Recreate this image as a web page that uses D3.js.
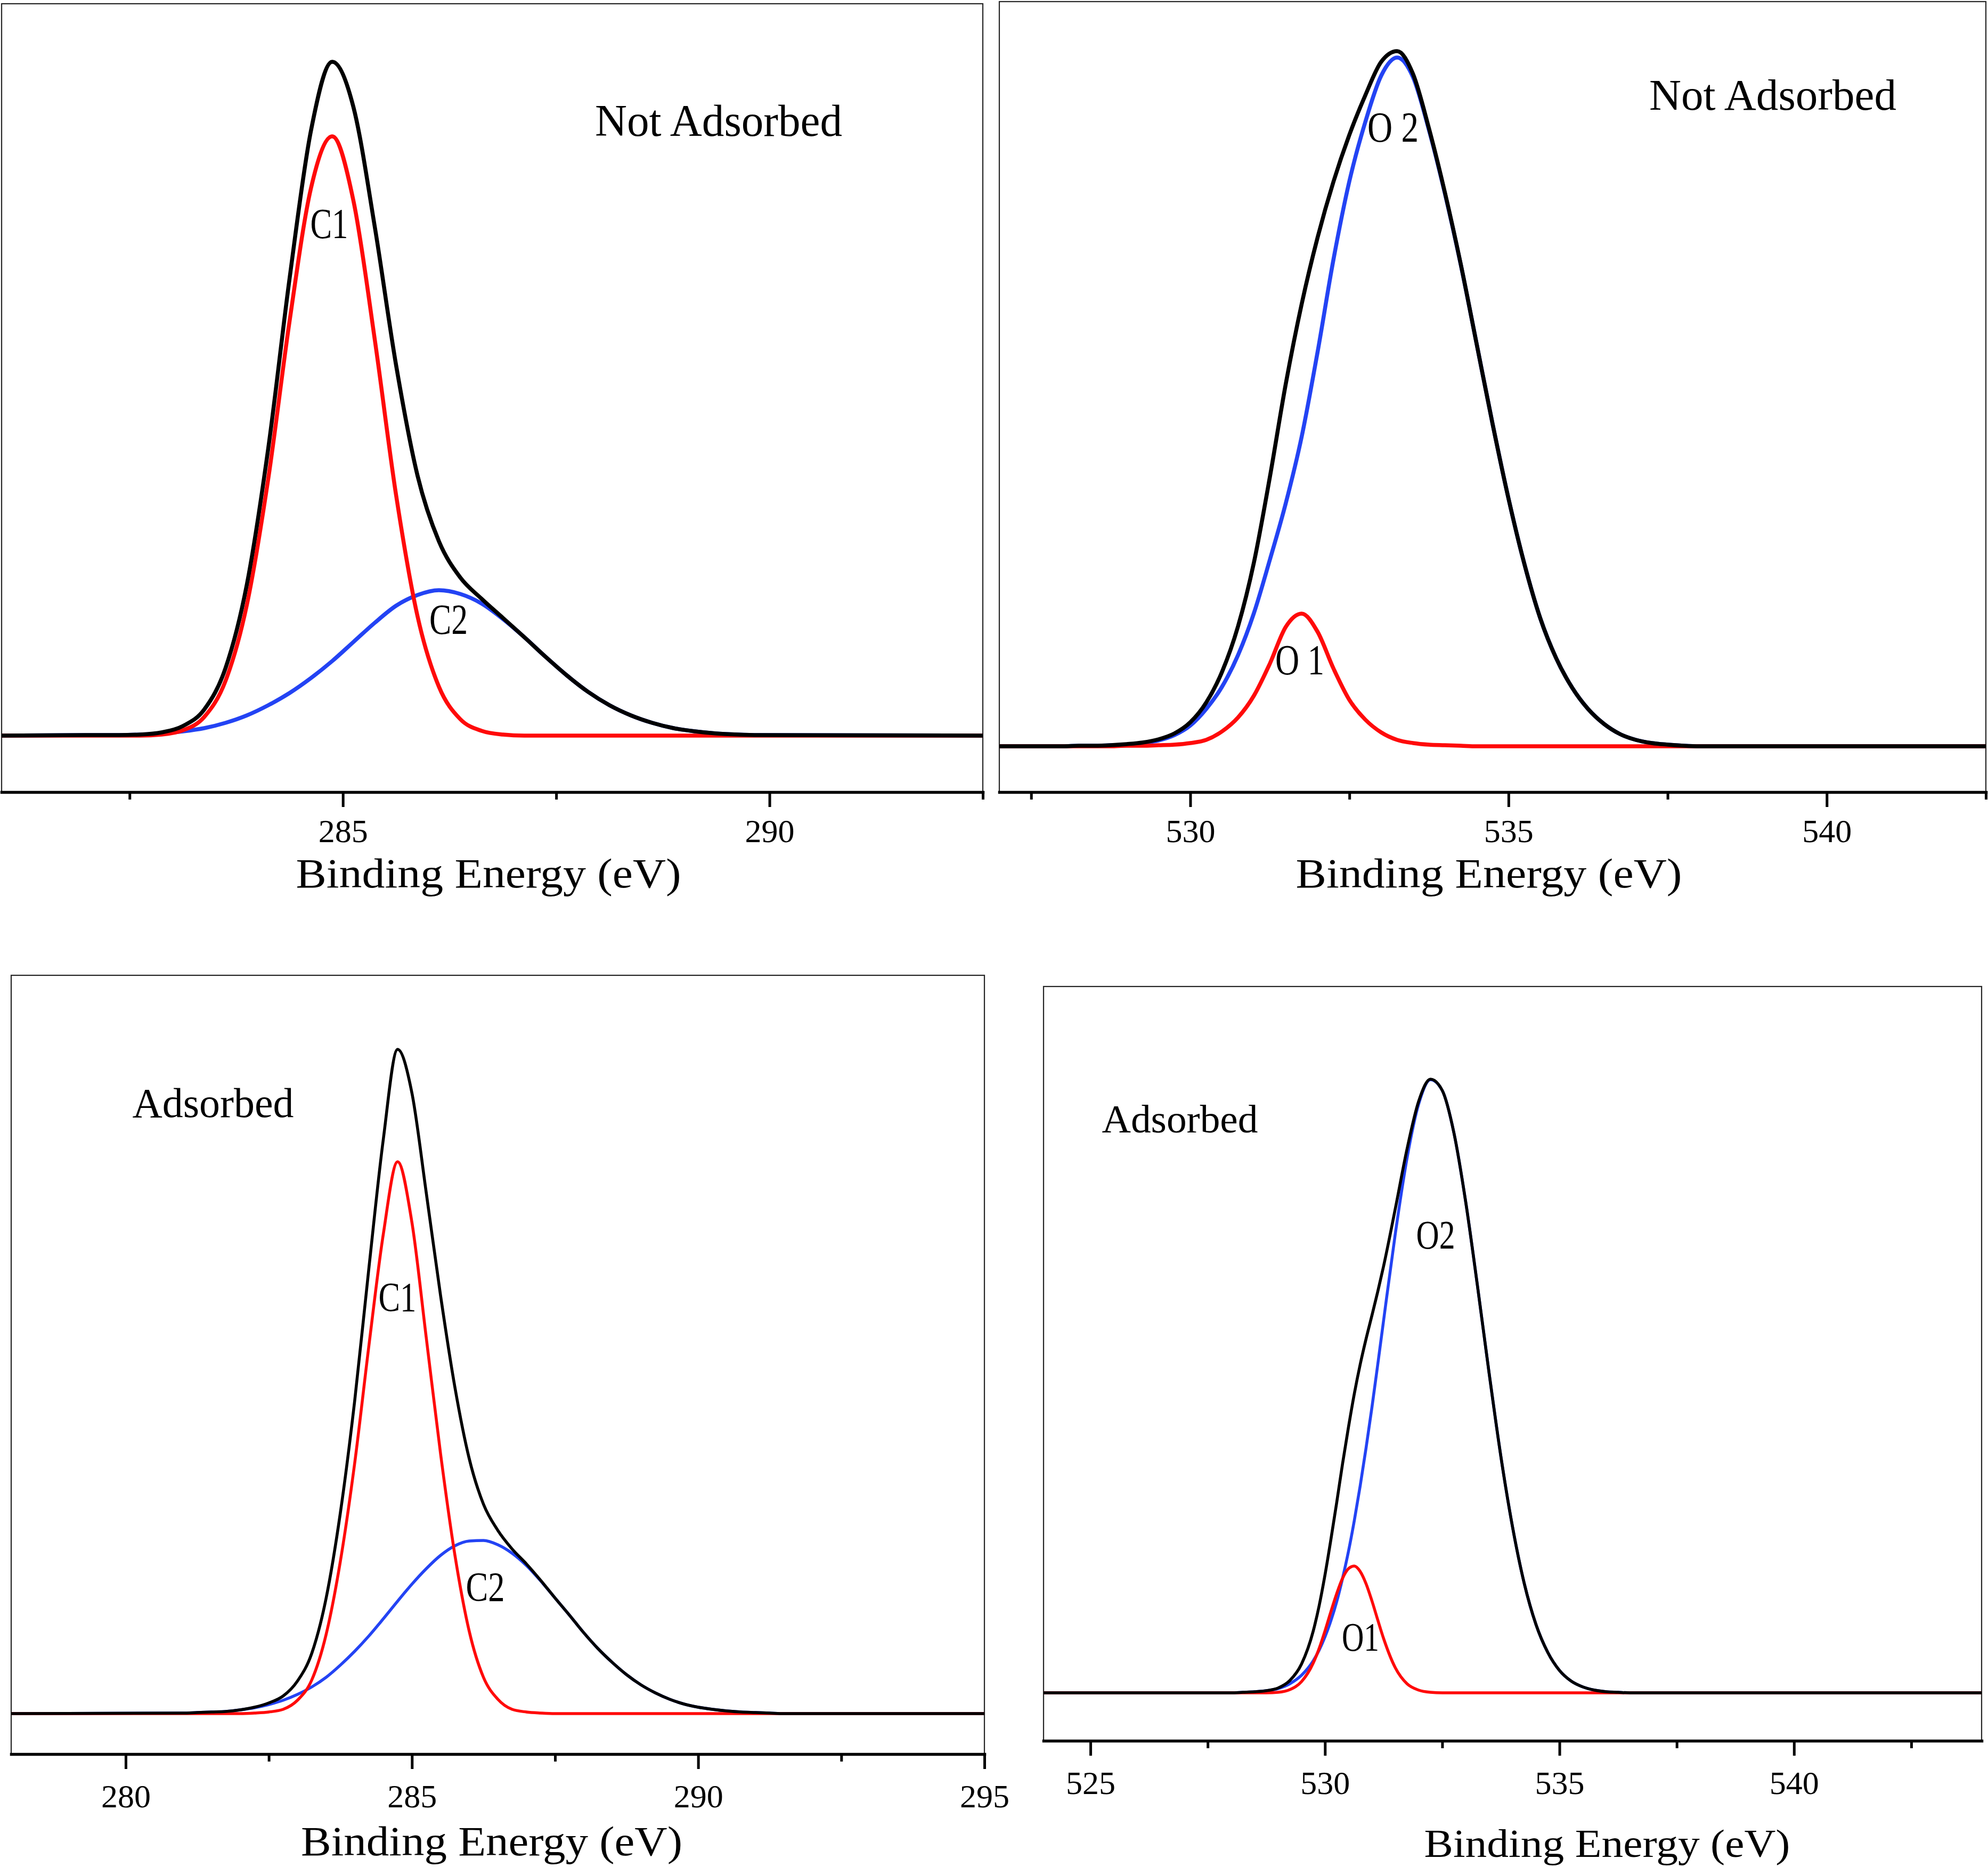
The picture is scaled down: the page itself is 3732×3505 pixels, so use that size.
<!DOCTYPE html>
<html>
<head>
<meta charset="utf-8">
<script src="https://cdn.jsdelivr.net/npm/d3@7"></script>
<style>
html,body{margin:0;padding:0;background:#fff;}
svg{display:block;}
</style>
</head>
<body>
<svg id="chart" width="3732" height="3505"></svg>
<script>
// ---------------- DATA (intensity in arbitrary units, baseline = 0) ----------------
// Panel 1: C 1s, not adsorbed
const c1NotEnergy = [281,
  282.125,282.375,282.625,282.875,283.125,283.375,283.625,283.875,284.125,284.375,
  284.625,284.875,285.125,285.375,285.625,285.875,286.125,286.375,286.625,286.875,
  287.125,287.375,287.625,287.875,288.125,288.375,288.625,288.875,289.125,289.375,
  289.625,289.875,
  292.5];
const c1NotC1 = [0,
  0,0,0,2,10,35,103,246,482,778,
  1027,1125,1003,742,450,224,92,31,9,2,
  0,0,0,0,0,0,0,0,0,0,
  0,0,
  0];
const c1NotC2 = [0,
  1,1,2,4,8,14,24,38,57,80,
  108,140,176,212,244,264,273,266,248,219,
  185,148,113,82,57,38,24,14,8,4,
  2,1,
  0];
const c1NotEnvelope = [0,
  1,1,2,6,18,49,127,284,539,858,
  1135,1265,1179,954,694,488,365,297,257,221,
  185,148,113,82,57,38,24,14,8,4,
  2,1,
  0];

// Panel 2: O 1s, not adsorbed
const o1NotEnergy = [527,
  528,528.25,528.5,528.75,529,529.25,529.5,529.75,530,530.25,
  530.5,530.75,531,531.25,531.5,531.75,532,532.25,532.5,532.75,
  533,533.25,533.5,533.75,534,534.25,534.5,534.75,535,535.25,
  535.5,535.75,536,536.25,536.5,536.75,537,537.25,537.5,537.75,
  538,
  542.5];
const o1NotO1 = [0,
  0,0,0,0,1,1,2,3,6,12,
  28,54,95,155,224,249,215,146,87,50,
  26,12,6,3,2,1,0,0,0,0,
  0,0,0,0,0,0,0,0,0,0,
  0,
  0];
const o1NotO2 = [0,
  0,1,1,2,3,6,11,21,39,70,
  112,171,250,350,456,581,740,914,1061,1172,
  1259,1293,1256,1157,1038,904,755,605,465,342,
  240,165,110,70,42,23,12,6,3,1,
  0,
  0];
const o1NotEnvelope = [0,
  0,1,1,2,4,7,13,24,45,82,
  140,225,345,505,680,830,955,1060,1148,1222,
  1285,1305,1262,1160,1040,905,755,605,465,342,
  240,165,110,70,42,23,12,6,3,1,
  0,
  0];

// Panel 3: C 1s, adsorbed
const c1AdsEnergy = [278,
  281,281.25,281.5,281.75,282,282.25,282.5,282.75,283,283.25,
  283.5,283.75,284,284.25,284.5,284.75,285,285.25,285.5,285.75,
  286,286.25,286.5,286.75,287,287.25,287.5,287.75,288,288.25,
  288.5,288.75,289,289.25,289.5,289.75,290,290.25,290.5,290.75,
  291,291.25,291.5,
  295];
const c1AdsC1 = [0,
  0,0,0,0,0,1,3,8,25,63,
  148,286,470,692,900,1036,922,706,488,298,
  155,68,27,8,3,1,0,0,0,0,
  0,0,0,0,0,0,0,0,0,0,
  0,0,0,
  0];
const c1AdsC2 = [0,
  1,2,3,4,7,11,17,25,36,50,
  68,91,117,146,178,211,243,272,297,315,
  324,325,317,301,278,249,217,185,152,122,
  96,73,54,39,27,18,12,8,5,3,
  2,1,0,
  0];
const c1AdsEnvelope = [0,
  1,2,3,4,7,12,20,33,61,113,
  216,377,587,838,1078,1247,1165,978,785,613,
  479,393,344,309,281,250,217,185,152,122,
  96,73,54,39,27,18,12,8,5,3,
  2,1,0,
  0];

// Panel 4: O 1s, adsorbed
const o1AdsEnergy = [524,
  528,528.25,528.5,528.75,529,529.25,529.5,529.75,529.875,530,
  530.125,530.25,530.375,530.5,530.625,530.75,530.875,531,531.125,531.25,
  531.5,531.75,532,532.25,532.5,532.75,533,533.25,533.5,533.75,
  534,534.25,534.5,534.75,535,535.25,535.5,535.75,536,536.25,
  536.5,
  544];
const o1AdsO1 = [0,
  0,0,0,0,1,6,21,56,83,116,
  152,186,215,233,238,228,205,173,137,102,
  47,17,5,1,0,0,0,0,0,0,
  0,0,0,0,0,0,0,0,0,0,
  0,
  0];
const o1AdsO2 = [0,
  0,1,2,4,8,17,33,60,80,105,
  135,171,215,265,323,388,459,535,616,699,
  862,1004,1106,1151,1131,1051,922,765,600,444,
  311,205,128,76,42,22,11,5,2,1,
  0,
  0];
const o1AdsEnvelope = [0,
  0,1,2,4,9,23,54,116,163,221,
  287,357,430,498,561,616,664,708,753,801,
  909,1021,1111,1152,1131,1051,922,765,600,444,
  311,205,128,76,42,22,11,5,2,1,
  0,
  0];

// Axis ticks
const c1NotMajor = [285, 290];
const c1NotMinor = [282.5, 287.5, 292.5];
const o1NotMajor = [530, 535, 540];
const o1NotMinor = [527.5, 532.5, 537.5, 542.5];
const c1AdsMajor = [280, 285, 290, 295];
const c1AdsMinor = [282.5, 287.5, 292.5];
const o1AdsMajor = [525, 530, 535, 540];
const o1AdsMinor = [527.5, 532.5, 537.5, 542.5];

// Texts
const axisTitle = "Binding Energy (eV)";
const stateLabels = ["Not Adsorbed", "Not Adsorbed", "Adsorbed", "Adsorbed"];
const peakLabels = [["C1", "C2"], ["O 1", "O 2"], ["C1", "C2"], ["O1", "O2"]];

// ---------------- LAYOUT / STYLE ----------------
const FONT = '"Liberation Serif","DejaVu Serif","Times New Roman",serif';
const RED = "#ff0a0a";
const BLUE = "#2343f4";
const BLACK = "#000000";

const panels = [
  { energy: c1NotEnergy, comp1: c1NotC1, comp2: c1NotC2, env: c1NotEnvelope,
    xDomain: [281, 292.5], yDomain: [-106, 1374],
    left: 3, right: 1845, top: 7, axisY: 1487, lw: 7.5, pad: 22,
    major: c1NotMajor, minor: c1NotMinor,
    state: { i: 0, cx: 1349, y: 255, size: 84, len: 464 },
    p1: { cx: 618, y: 447, size: 80, len: 71 },
    p2: { cx: 842, y: 1190, size: 80, len: 72 },
    title: { cx: 917, y: 1666, size: 78, len: 723 } },
  { energy: o1NotEnergy, comp1: o1NotO1, comp2: o1NotO2, env: o1NotEnvelope,
    xDomain: [527, 542.5], yDomain: [-86, 1398],
    left: 1876, right: 3728, top: 3, axisY: 1487, lw: 7.5, pad: 22,
    major: o1NotMajor, minor: o1NotMinor,
    state: { i: 1, cx: 3328, y: 206, size: 82, len: 464 },
    p1: { cx: 2440, y: 1266, size: 80, len: 92 },
    p2: { cx: 2615, y: 266, size: 80, len: 96 },
    title: { cx: 2795, y: 1666, size: 78, len: 725 } },
  { energy: c1AdsEnergy, comp1: c1AdsC1, comp2: c1AdsC2, env: c1AdsEnvelope,
    xDomain: [278, 295], yDomain: [-76, 1386],
    left: 21, right: 1848, top: 1831, axisY: 3293, lw: 5.5, pad: 28,
    major: c1AdsMajor, minor: c1AdsMinor,
    state: { i: 2, cx: 400, y: 2097, size: 78, len: 303 },
    p1: { cx: 746, y: 2461, size: 78, len: 71 },
    p2: { cx: 911, y: 3005, size: 78, len: 73 },
    title: { cx: 923, y: 3483, size: 78, len: 716 } },
  { energy: o1AdsEnergy, comp1: o1AdsO1, comp2: o1AdsO2, env: o1AdsEnvelope,
    xDomain: [524, 544], yDomain: [-90, 1326],
    left: 1959, right: 3720, top: 1852, axisY: 3268, lw: 5.5, pad: 28,
    major: o1AdsMajor, minor: o1AdsMinor,
    state: { i: 3, cx: 2215, y: 2126, size: 74, len: 293 },
    p1: { cx: 2554, y: 3099, size: 76, len: 70 },
    p2: { cx: 2695, y: 2344, size: 76, len: 73 },
    title: { cx: 3017, y: 3486, size: 74, len: 687 } }
];

const svg = d3.select("#chart");
svg.append("rect").attr("width", 3732).attr("height", 3505).attr("fill", "#fff");

function addText(g, t, txt) {
  g.append("text")
    .attr("x", t.cx).attr("y", t.y)
    .attr("text-anchor", "middle")
    .attr("font-family", FONT)
    .attr("font-size", t.size)
    .attr("textLength", t.len)
    .attr("lengthAdjust", "spacingAndGlyphs")
    .attr("fill", "#000")
    .text(txt);
}

panels.forEach((p, pi) => {
  const x = d3.scaleLinear().domain(p.xDomain).range([p.left, p.right]);
  const y = d3.scaleLinear().domain(p.yDomain).range([p.axisY, p.top]);
  const g = svg.append("g");

  // frame
  g.append("rect")
    .attr("x", p.left).attr("y", p.top)
    .attr("width", p.right - p.left).attr("height", p.axisY - p.top)
    .attr("fill", "none").attr("stroke", "#262626").attr("stroke-width", 2.2);

  const lineGen = d3.line()
    .x((d, i) => x(p.energy[i]))
    .y(d => y(d))
    .curve(d3.curveMonotoneX);

  const series = [
    { vals: p.comp2, color: BLUE },
    { vals: p.comp1, color: RED },
    { vals: p.env, color: BLACK }
  ];
  series.forEach(s => {
    g.append("path")
      .attr("d", lineGen(s.vals))
      .attr("fill", "none")
      .attr("stroke", s.color)
      .attr("stroke-width", p.lw)
      .attr("stroke-linejoin", "round")
      .attr("stroke-linecap", "butt");
  });

  // minor ticks
  const minorAxis = d3.axisBottom(x).tickValues(p.minor).tickSize(14).tickSizeOuter(0).tickFormat("");
  const gm = g.append("g").attr("transform", `translate(0,${p.axisY})`).call(minorAxis);
  gm.select(".domain").remove();
  gm.selectAll(".tick line").attr("stroke", "#000").attr("stroke-width", 5);

  // major ticks + labels + axis line
  const majorAxis = d3.axisBottom(x).tickValues(p.major).tickSize(28).tickPadding(p.pad)
    .tickSizeOuter(0).tickFormat(d3.format("d"));
  const ga = g.append("g").attr("transform", `translate(0,${p.axisY})`).call(majorAxis);
  ga.attr("font-family", FONT).attr("font-size", 62);
  ga.select(".domain").attr("stroke", "#000").attr("stroke-width", 5.5).attr("stroke-linecap", "square");
  ga.selectAll(".tick line").attr("stroke", "#000").attr("stroke-width", 5);
  ga.selectAll(".tick text").attr("fill", "#000");

  // labels
  addText(g, p.state, stateLabels[p.state.i]);
  addText(g, p.p1, peakLabels[pi][0]);
  addText(g, p.p2, peakLabels[pi][1]);
  addText(g, p.title, axisTitle);
});
</script>
</body>
</html>
